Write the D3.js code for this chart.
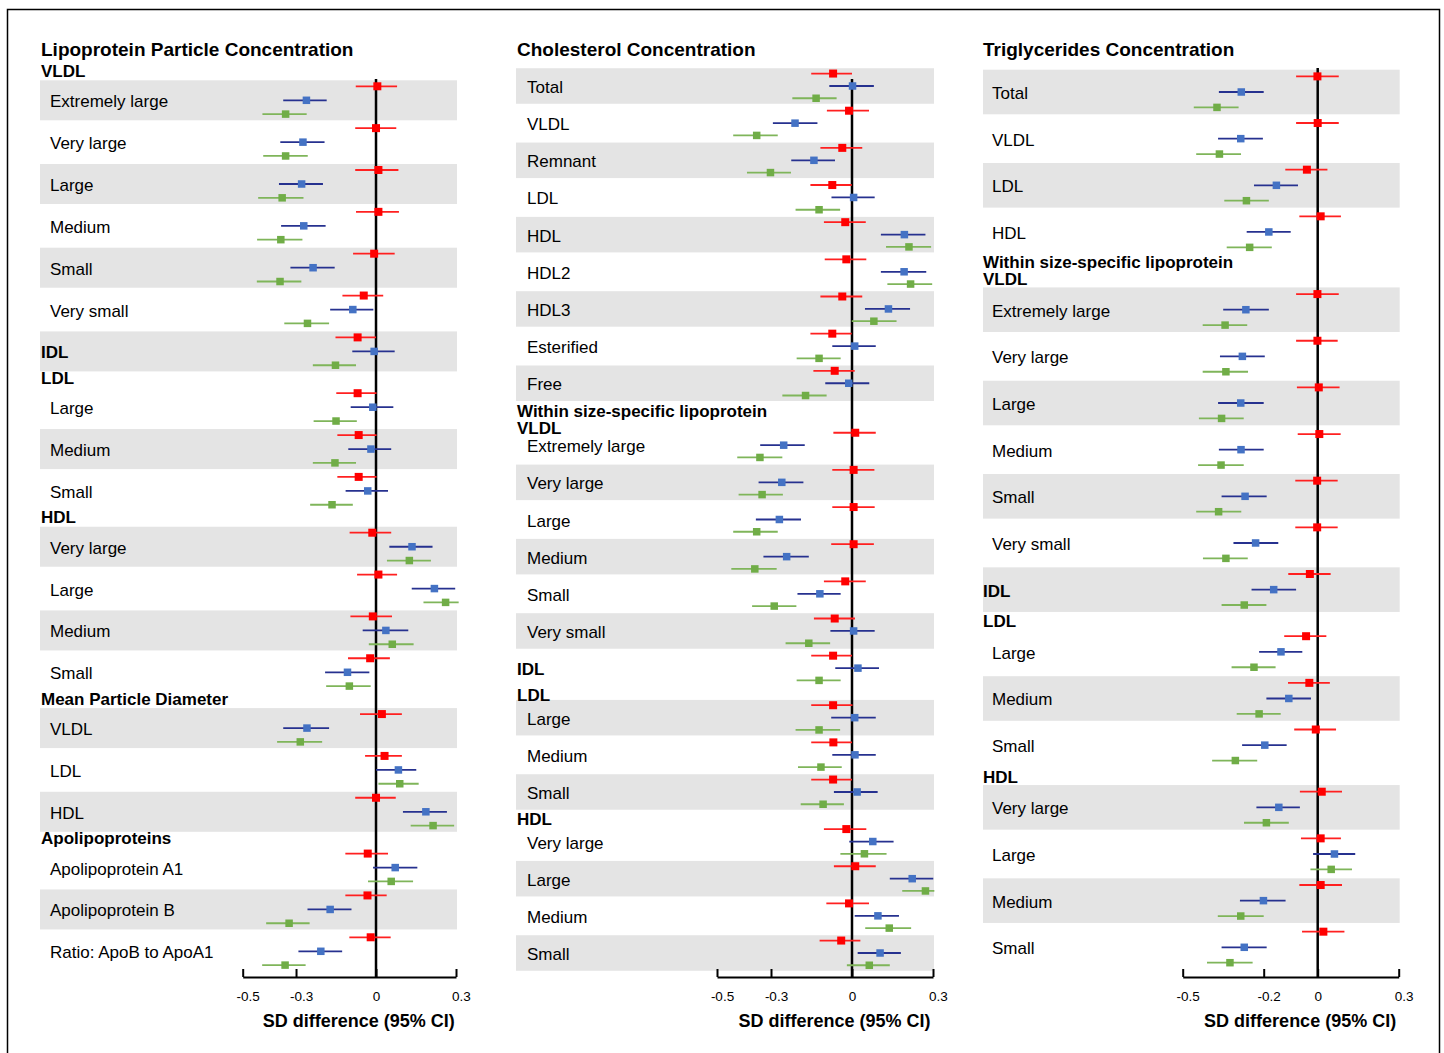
<!DOCTYPE html>
<html>
<head>
<meta charset="utf-8">
<script src="https://cdn.jsdelivr.net/npm/d3@7"></script>
<style>
  html, body { margin: 0; padding: 0; background: #fff; }
  svg { display: block; font-family: "Liberation Sans", Arial, sans-serif; }
</style>
</head>
<body>
<svg id="chart" width="1444" height="1053"></svg>
<script>
// ---------- Lipoprotein particle concentration ----------
// kinds: h = section header, h2 = two-line header, r = row, b = row with bold label
const particleLabels = ["VLDL", "Extremely large", "Very large", "Large", "Medium", "Small", "Very small", "IDL",
  "LDL", "Large", "Medium", "Small", "HDL", "Very large", "Large", "Medium", "Small",
  "Mean Particle Diameter", "VLDL", "LDL", "HDL", "Apolipoproteins", "Apolipoprotein A1", "Apolipoprotein B",
  "Ratio: ApoB to ApoA1"];
const particleKinds = ["h", "r", "r", "r", "r", "r", "r", "b", "h", "r", "r", "r", "h", "r", "r", "r", "r",
  "h", "r", "r", "r", "h", "r", "r", "r"];
// [estimate, lower 95% CI, upper 95% CI]
const particleRed = [
  [0.005, -0.076, 0.079], [0.0, -0.078, 0.076], [0.009, -0.078, 0.084], [0.009, -0.075, 0.086],
  [-0.007, -0.086, 0.07], [-0.046, -0.126, 0.027], [-0.069, -0.152, 0.0], [-0.069, -0.149, 0.002],
  [-0.065, -0.145, 0.002], [-0.065, -0.145, 0.002], [-0.014, -0.099, 0.057], [0.009, -0.071, 0.079],
  [-0.012, -0.096, 0.06], [-0.022, -0.105, 0.052], [0.022, -0.06, 0.097], [0.032, -0.041, 0.097],
  [0.0, -0.078, 0.074], [-0.031, -0.115, 0.045], [-0.032, -0.115, 0.04], [-0.02, -0.1, 0.055]];
const particleBlue = [
  [-0.261, -0.348, -0.185], [-0.274, -0.359, -0.193], [-0.279, -0.364, -0.199], [-0.271, -0.356, -0.189],
  [-0.236, -0.321, -0.155], [-0.087, -0.172, -0.01], [-0.007, -0.089, 0.07], [-0.012, -0.095, 0.065],
  [-0.019, -0.104, 0.057], [-0.031, -0.114, 0.045], [0.135, 0.05, 0.212], [0.219, 0.134, 0.297],
  [0.037, -0.05, 0.121], [-0.107, -0.191, -0.025], [-0.259, -0.348, -0.176], [0.084, 0.0, 0.151],
  [0.187, 0.101, 0.266], [0.072, -0.011, 0.155], [-0.172, -0.257, -0.092], [-0.207, -0.291, -0.127]];
const particleGreen = [
  [-0.339, -0.426, -0.26], [-0.339, -0.423, -0.256], [-0.352, -0.442, -0.272], [-0.357, -0.446, -0.276],
  [-0.36, -0.447, -0.28], [-0.257, -0.344, -0.176], [-0.152, -0.237, -0.075], [-0.15, -0.234, -0.072],
  [-0.154, -0.237, -0.075], [-0.165, -0.247, -0.087], [0.125, 0.041, 0.206], [0.261, 0.178, 0.31],
  [0.061, -0.027, 0.141], [-0.1, -0.187, -0.02], [-0.284, -0.371, -0.202], [0.089, 0.009, 0.16],
  [0.214, 0.13, 0.293], [0.057, -0.03, 0.139], [-0.326, -0.412, -0.249], [-0.341, -0.427, -0.264]];

// ---------- Cholesterol concentration ----------
const cholLabels = ["Total", "VLDL", "Remnant", "LDL", "HDL", "HDL2", "HDL3", "Esterified", "Free",
  "Within size-specific lipoprotein|VLDL", "Extremely large", "Very large", "Large", "Medium", "Small", "Very small",
  "IDL", "LDL", "Large", "Medium", "Small", "HDL", "Very large", "Large", "Medium", "Small"];
const cholKinds = ["r", "r", "r", "r", "r", "r", "r", "r", "r", "h2", "r", "r", "r", "r", "r", "r",
  "b", "h", "r", "r", "r", "h", "r", "r", "r", "r"];
const cholRed = [
  [-0.07, -0.151, 0.0], [-0.011, -0.093, 0.063], [-0.036, -0.117, 0.038], [-0.073, -0.154, -0.001],
  [-0.025, -0.104, 0.051], [-0.021, -0.101, 0.053], [-0.036, -0.117, 0.038], [-0.073, -0.154, -0.001],
  [-0.064, -0.143, 0.01], [0.012, -0.069, 0.088], [0.006, -0.073, 0.083], [0.006, -0.073, 0.084],
  [0.006, -0.077, 0.081], [-0.025, -0.104, 0.051], [-0.064, -0.141, 0.011], [-0.07, -0.151, 0.0],
  [-0.07, -0.151, 0.002], [-0.069, -0.151, 0.0], [-0.07, -0.151, 0.0], [-0.021, -0.104, 0.053],
  [0.012, -0.067, 0.088], [-0.011, -0.095, 0.063], [-0.04, -0.12, 0.031]];
const cholBlue = [
  [0.002, -0.084, 0.081], [-0.211, -0.293, -0.128], [-0.141, -0.225, -0.063], [0.006, -0.076, 0.084],
  [0.194, 0.107, 0.272], [0.193, 0.107, 0.275], [0.135, 0.048, 0.215], [0.01, -0.073, 0.088],
  [-0.012, -0.099, 0.064], [-0.253, -0.34, -0.175], [-0.26, -0.346, -0.18], [-0.269, -0.356, -0.189],
  [-0.242, -0.328, -0.16], [-0.119, -0.202, -0.042], [0.006, -0.08, 0.084], [0.022, -0.062, 0.1],
  [0.01, -0.077, 0.088], [0.011, -0.073, 0.088], [0.019, -0.067, 0.095], [0.077, -0.01, 0.154],
  [0.223, 0.14, 0.301], [0.096, 0.01, 0.174], [0.104, 0.021, 0.181]];
const cholGreen = [
  [-0.133, -0.221, -0.057], [-0.353, -0.44, -0.275], [-0.302, -0.389, -0.226], [-0.122, -0.209, -0.044],
  [0.211, 0.126, 0.293], [0.217, 0.131, 0.297], [0.081, -0.001, 0.165], [-0.122, -0.205, -0.042],
  [-0.172, -0.258, -0.094], [-0.341, -0.425, -0.258], [-0.333, -0.42, -0.256], [-0.353, -0.44, -0.275],
  [-0.36, -0.447, -0.279], [-0.288, -0.37, -0.206], [-0.16, -0.246, -0.081], [-0.122, -0.205, -0.042],
  [-0.122, -0.209, -0.044], [-0.115, -0.2, -0.038], [-0.107, -0.19, -0.03], [0.046, -0.043, 0.128],
  [0.272, 0.186, 0.305], [0.138, 0.049, 0.219], [0.064, -0.019, 0.14]];

// ---------- Triglycerides concentration ----------
const trigLabels = ["Total", "VLDL", "LDL", "HDL", "Within size-specific lipoprotein|VLDL",
  "Extremely large", "Very large", "Large", "Medium", "Small", "Very small", "IDL",
  "LDL", "Large", "Medium", "Small", "HDL", "Very large", "Large", "Medium", "Small"];
const trigKinds = ["r", "r", "r", "r", "h2", "r", "r", "r", "r", "r", "r", "b",
  "h", "r", "r", "r", "h", "r", "r", "r", "r"];
const trigRed = [
  [-0.001, -0.08, 0.078], [0.0, -0.08, 0.078], [-0.04, -0.12, 0.036], [0.011, -0.068, 0.086],
  [-0.001, -0.08, 0.078], [-0.001, -0.08, 0.074], [0.004, -0.077, 0.081], [0.006, -0.074, 0.085],
  [-0.002, -0.083, 0.074], [-0.002, -0.083, 0.074], [-0.029, -0.109, 0.048], [-0.043, -0.124, 0.032],
  [-0.031, -0.11, 0.045], [-0.007, -0.087, 0.068], [0.015, -0.066, 0.09], [0.011, -0.062, 0.086],
  [0.011, -0.068, 0.09], [0.021, -0.058, 0.099]];
const trigBlue = [
  [-0.283, -0.366, -0.2], [-0.285, -0.369, -0.203], [-0.153, -0.236, -0.073], [-0.181, -0.263, -0.1],
  [-0.266, -0.35, -0.181], [-0.279, -0.362, -0.196], [-0.285, -0.369, -0.2], [-0.284, -0.366, -0.2],
  [-0.269, -0.356, -0.189], [-0.23, -0.312, -0.146], [-0.163, -0.245, -0.08], [-0.136, -0.217, -0.057],
  [-0.107, -0.19, -0.025], [-0.196, -0.28, -0.115], [-0.144, -0.227, -0.066], [0.062, -0.017, 0.139],
  [-0.201, -0.288, -0.119], [-0.272, -0.356, -0.189]];
const trigGreen = [
  [-0.373, -0.459, -0.293], [-0.364, -0.45, -0.284], [-0.264, -0.346, -0.181], [-0.252, -0.337, -0.17],
  [-0.343, -0.426, -0.261], [-0.34, -0.426, -0.258], [-0.356, -0.44, -0.274], [-0.358, -0.443, -0.274],
  [-0.367, -0.45, -0.283], [-0.34, -0.425, -0.259], [-0.272, -0.356, -0.19], [-0.236, -0.319, -0.156],
  [-0.217, -0.3, -0.137], [-0.305, -0.391, -0.224], [-0.19, -0.273, -0.107], [0.05, -0.027, 0.127],
  [-0.285, -0.37, -0.2], [-0.325, -0.41, -0.241]];

// ---------- Axis ticks ----------
const ticksA = [-0.5, -0.3, 0, 0.3];
const tickLabelsA = ["-0.5", "-0.3", "0", "0.3"];
const ticksB = [-0.5, -0.2, 0, 0.3];
const tickLabelsB = ["-0.5", "-0.2", "0", "0.3"];
const axisTitle = "SD difference (95% CI)";

// ---------- Series styling ----------
const seriesStyle = [
  { key: "red",   offset: -0.335, line: "#ff2020", fill: "#ff0000", size: 8 },
  { key: "blue",  offset: 0,      line: "#26318f", fill: "#4472c4", size: 7.5 },
  { key: "green", offset: 0.33,   line: "#7fb55a", fill: "#70ad47", size: 7.5 }
];

// ---------- Panel layout ----------
const panels = [
  { title: "Lipoprotein Particle Concentration", labels: particleLabels, kinds: particleKinds,
    red: particleRed, blue: particleBlue, green: particleGreen, ticks: ticksA, tickLabels: tickLabelsA,
    xRange: [242.7, 456], left: 40, labelX: 50, headerX: 41, yRange: [100.3, 951.3], zeroTop: 79,
    hLift: 0.69, h2Lift: 0.5 },
  { title: "Cholesterol Concentration", labels: cholLabels, kinds: cholKinds,
    red: cholRed, blue: cholBlue, green: cholGreen, ticks: ticksA, tickLabels: tickLabelsA,
    xRange: [717, 933], left: 516, labelX: 527, headerX: 517, yRange: [86, 953], zeroTop: 79,
    hLift: 0.6, h2Lift: 0.45 },
  { title: "Triglycerides Concentration", labels: trigLabels, kinds: trigKinds,
    red: trigRed, blue: trigBlue, green: trigGreen, ticks: ticksB, tickLabels: tickLabelsB,
    xRange: [1182.7, 1398.7], left: 983, labelX: 992, headerX: 983, yRange: [92, 947.3], zeroTop: 68,
    hLift: 0.64, h2Lift: 0.64 }
];

const axisY = 977;
const svg = d3.select("#chart");

// outer frame
svg.append("rect")
  .attr("x", 7.5).attr("y", 9.5).attr("width", 1432).attr("height", 1100)
  .attr("fill", "none").attr("stroke", "#000").attr("stroke-width", 1.5);

// Row positions in row units: each row = 1, header = 1/3, two-line header = 2/3
function rowPositions(kinds) {
  const pos = [];
  let p = null, gap = 0;
  kinds.forEach((k, i) => {
    if (k === "h") gap += 1 / 3;
    else if (k === "h2") gap += 2 / 3;
    else { p = (p === null) ? 0 : p + 1 + gap; gap = 0; pos[i] = p; }
  });
  let next = null;
  for (let i = kinds.length - 1; i >= 0; i--) {
    if (pos[i] !== undefined && kinds[i] !== "h" && kinds[i] !== "h2") next = pos[i];
    else pos[i] = next;
  }
  return pos;
}

panels.forEach(panel => {
  const g = svg.append("g");
  const pos = rowPositions(panel.kinds);
  const maxPos = d3.max(pos);
  const x = d3.scaleLinear().domain([-0.5, 0.3]).range(panel.xRange);
  const y = d3.scaleLinear().domain([0, maxPos]).range(panel.yRange);

  // data rows
  const rows = [];
  panel.kinds.forEach((k, i) => {
    if (k === "r" || k === "b") rows.push({ label: panel.labels[i], kind: k, pos: pos[i] });
  });
  rows.forEach((r, j) => {
    r.red = panel.red[j]; r.blue = panel.blue[j]; r.green = panel.green[j]; r.idx = j;
  });

  // alternating shaded bands
  g.append("g").selectAll("rect")
    .data(rows.filter(r => r.idx % 2 === 0))
    .join("rect")
    .attr("x", panel.left)
    .attr("y", r => y(r.pos - 0.478))
    .attr("width", x(0.3) + 1 - panel.left)
    .attr("height", r => y(r.pos + 0.478) - y(r.pos - 0.478))
    .attr("fill", "#e4e4e4");

  // panel title
  g.append("text")
    .attr("x", panel.headerX).attr("y", 49)
    .attr("dominant-baseline", "central")
    .attr("font-size", 19).attr("font-weight", "bold")
    .text(panel.title);

  // row labels
  g.append("g").selectAll("text")
    .data(rows)
    .join("text")
    .attr("x", r => r.kind === "b" ? panel.headerX : panel.labelX)
    .attr("y", r => y(r.pos) + 1.5)
    .attr("dominant-baseline", "central")
    .attr("font-size", 17)
    .attr("font-weight", r => r.kind === "b" ? "bold" : "normal")
    .text(r => r.label);

  // section headers
  panel.kinds.forEach((k, i) => {
    if (k === "h") {
      g.append("text")
        .attr("x", panel.headerX).attr("y", y(pos[i] - panel.hLift))
        .attr("dominant-baseline", "central")
        .attr("font-size", 17).attr("font-weight", "bold")
        .text(panel.labels[i]);
    } else if (k === "h2") {
      const lines = panel.labels[i].split("|");
      const base = y(pos[i] - panel.h2Lift);
      lines.forEach((ln, li) => {
        g.append("text")
          .attr("x", panel.headerX).attr("y", base - (lines.length - 1 - li) * 17)
          .attr("dominant-baseline", "central")
          .attr("font-size", 17).attr("font-weight", "bold")
          .text(ln);
      });
    }
  });

  // zero reference line
  g.append("line")
    .attr("x1", x(0)).attr("x2", x(0))
    .attr("y1", panel.zeroTop).attr("y2", axisY)
    .attr("stroke", "#000").attr("stroke-width", 2.5);

  // confidence intervals and point estimates
  seriesStyle.forEach(s => {
    const sg = g.append("g");
    sg.selectAll("line")
      .data(rows)
      .join("line")
      .attr("x1", r => x(r[s.key][1]))
      .attr("x2", r => x(r[s.key][2]))
      .attr("y1", r => y(r.pos + s.offset))
      .attr("y2", r => y(r.pos + s.offset))
      .attr("stroke", s.line).attr("stroke-width", 1.8);
    sg.selectAll("rect")
      .data(rows)
      .join("rect")
      .attr("x", r => x(r[s.key][0]) - s.size / 2)
      .attr("y", r => y(r.pos + s.offset) - s.size / 2)
      .attr("width", s.size).attr("height", s.size)
      .attr("fill", s.fill);
  });

  // x axis
  const axis = d3.axisBottom(x)
    .tickValues(panel.ticks)
    .tickFormat((d, i) => panel.tickLabels[i])
    .tickSizeInner(-8)
    .tickSizeOuter(0)
    .tickPadding(14);
  const ag = g.append("g").attr("transform", `translate(0,${axisY})`).call(axis);
  ag.select(".domain").attr("stroke", "#000").attr("stroke-width", 2);
  ag.selectAll(".tick line").attr("stroke", "#000").attr("stroke-width", 2);
  ag.selectAll(".tick text")
    .attr("font-size", 13.5)
    .attr("font-family", "'Liberation Sans', Arial, sans-serif")
    .attr("fill", "#000")
    .attr("dx", d => d === 0 ? 0 : 5);

  g.append("text")
    .attr("x", x(-0.065)).attr("y", 1021)
    .attr("text-anchor", "middle").attr("dominant-baseline", "central")
    .attr("font-size", 18).attr("font-weight", "bold")
    .text(axisTitle);
});
</script>
</body>
</html>
